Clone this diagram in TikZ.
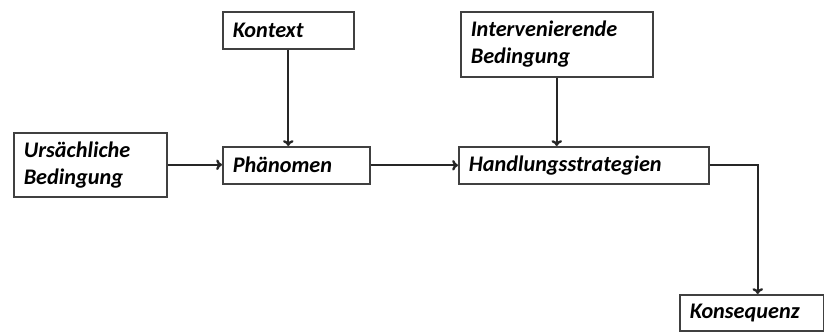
\documentclass[tikz,border=0pt]{standalone}
\usepackage{fontspec}
\setmainfont{Carlito}
\usetikzlibrary{positioning}
\usetikzlibrary{arrows.meta}

\tikzset{
  kasten/.style={draw=black!75,line width=1.3pt,anchor=north west,align=left,
    inner xsep=0.3cm,inner ysep=0pt,
    font=\fontsize{19}{23}\selectfont\bfseries\itshape},
  pfeil/.style={draw=black!85,line width=2pt,-{To[length=5pt,width=9pt]}}
}

\begin{document}
\begin{tikzpicture}[x=0.03cm,y=-0.03cm]
 \useasboundingbox (0,0) rectangle (824,331);
 \node[kasten,text width=3.99cm,minimum height=1.92cm] (urs) at (13,132) {Urs\"achliche\\Bedingung};
 \node[kasten,text width=3.33cm,minimum height=1.11cm] (kontext) at (222,11) {Kontext};
 \node[kasten,text width=3.81cm,minimum height=1.11cm] (phaen) at (222,146) {Ph\"anomen};
 \node[kasten,text width=5.16cm,minimum height=1.95cm] (interv) at (460,11) {Intervenierende\\Bedingung};
 \node[kasten,text width=6.9cm,minimum height=1.11cm] (handl) at (458,146) {Handlungsstrategien};
 \node[kasten,text width=3.72cm,minimum height=1.08cm] (kons) at (679,294) {Konsequenz};

 \draw[pfeil] (urs.east) -- (urs.east -| phaen.west);
 \draw[pfeil] (kontext.south) -- (kontext.south |- phaen.north);
 \draw[pfeil] (phaen.east) -- (phaen.east -| handl.west);
 \draw[pfeil] (interv.south) -- (interv.south |- handl.north);
 \draw[pfeil] (handl.east) -| ([xshift=0.18cm]kons.north);
\end{tikzpicture}
\end{document}
